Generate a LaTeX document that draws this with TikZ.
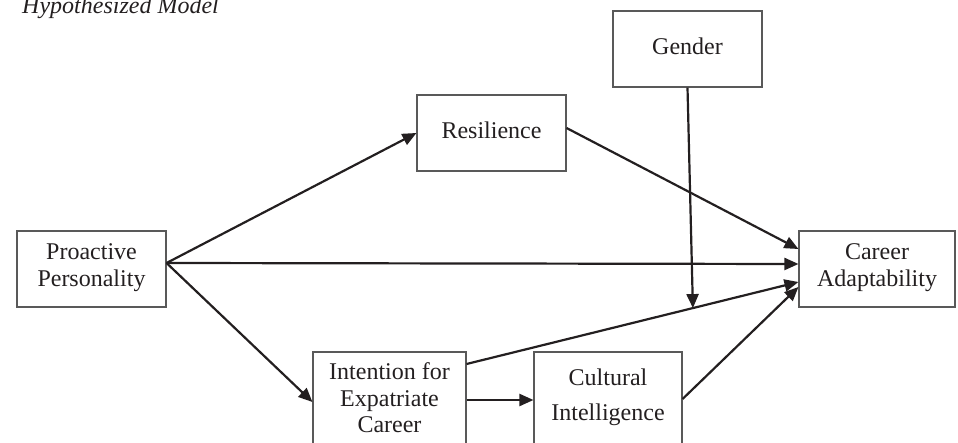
\documentclass[tikz,border=0pt]{standalone}
\usepackage{fontspec}
\setmainfont{Liberation Serif}
\usetikzlibrary{arrows.meta}
\definecolor{ink}{RGB}{35,31,32}
\begin{document}
\begin{tikzpicture}[x=1pt,y=-1pt,
  box/.style={draw=black!65,line width=1.1pt,minimum width=#1,minimum height=76pt,
    inner sep=0pt,align=center,text=ink,font=\fontsize{24}{26.5}\selectfont,
    execute at begin node=\strut,execute at end node=\strut},
  txt/.style={inner sep=0pt,align=center,text=ink,font=\fontsize{24}{26.5}\selectfont},
  conn/.style={-{Triangle[length=14pt,width=12pt]},line width=2.2pt,draw=ink}]
\clip (0,0) rectangle (958,443);
\node[anchor=base west,inner sep=0pt,text=ink,font=\fontsize{24}{26}\selectfont\itshape] (title) at (22,14) {Hypothesized Model};
\node[box=149pt] (pp) at (91.5,269) {Proactive\\Personality};
\node[box=149pt] (res) at (491.5,133) {Resilience};
\node[box=149pt] (gen) at (687.5,49) {Gender};
\node[box=156pt] (ca) at (877,269) {Career\\Adaptability};
\node[box=153pt,minimum height=100pt] (int) at (389.5,402) {Intention for\\Expatriate\\Career};
\node[box=148pt,minimum height=100pt] (ci) at (608,402) {};
\node[txt,anchor=base] (citext) at (608,420) {Cultural\\[8pt]Intelligence};
\draw[conn] ([yshift=6pt]pp.east) -- (res.west);
\draw[conn] ([yshift=6pt]pp.east) -- ([yshift=5pt]ca.west);
\draw[conn] ([yshift=6pt]pp.east) -- (int.west);
\draw[conn] ([yshift=5pt]res.east) -- ([yshift=20pt]ca.west);
\draw[conn] ([yshift=38pt]int.east) -- coordinate[pos=0.682] (mod) ([yshift=-13pt]ca.west);
\draw[conn] ([yshift=2pt]int.east) -- ([yshift=2pt]ci.west);
\draw[conn] ([yshift=3pt]ci.east) -- ([yshift=-18pt]ca.west);
\draw[conn] (gen.south) -- (mod);
\end{tikzpicture}
\end{document}
